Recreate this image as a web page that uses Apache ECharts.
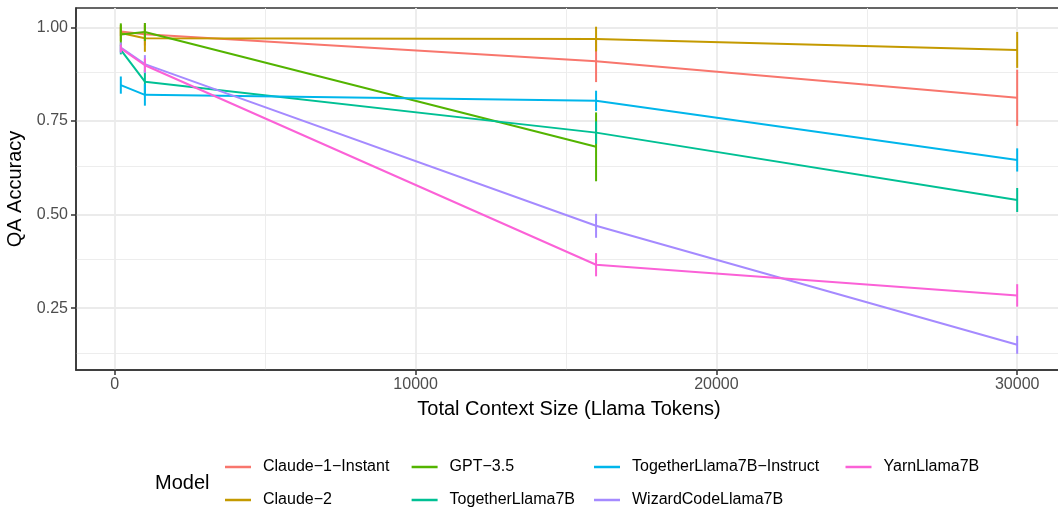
<!DOCTYPE html>
<html><head><meta charset="utf-8">
<script src="https://cdn.jsdelivr.net/npm/echarts@6/dist/echarts.min.js"></script>
<style>html,body{margin:0;padding:0;background:#fff}#c{width:1058px;height:508px}</style>
</head><body><div id="c"></div>
<script>
const xTokens = [200, 1000, 16000, 30000];
const modelNames = ['Claude−1−Instant','Claude−2','GPT−3.5','TogetherLlama7B','TogetherLlama7B−Instruct','WizardCodeLlama7B','YarnLlama7B'];
const claude1Acc = [0.989, 0.982, 0.910, 0.812];
const claude1Err = [0.012, 0.030, 0.056, 0.075];
const claude2Acc = [0.985, 0.971, 0.969, 0.940];
const claude2Err = [0.022, 0.036, 0.033, 0.048];
const gpt35Acc = [0.981, 0.988, 0.681];
const gpt35Err = [0.030, 0.024, 0.092];
const together7bAcc = [0.940, 0.855, 0.719, 0.539];
const together7bErr = [0.012, 0.032, 0.030, 0.032];
const togetherInstAcc = [0.846, 0.820, 0.804, 0.646];
const togetherInstErr = [0.023, 0.029, 0.027, 0.031];
const wizardAcc = [0.946, 0.902, 0.470, 0.152];
const wizardErr = [0.014, 0.024, 0.032, 0.024];
const yarnAcc = [0.944, 0.899, 0.366, 0.284];
const yarnErr = [0.010, 0.018, 0.031, 0.030];
const xTickValues = [0, 10000, 20000, 30000];
const xMinorValues = [5000, 15000, 25000];
const yTickValues = [0.25, 0.5, 0.75, 1.0];
const yMinorValues = [0.125, 0.375, 0.625, 0.875];
const colors = ['#F8766D','#C49A00','#53B400','#00C094','#00B6EB','#A58AFF','#FB61D7'];

const accs = [claude1Acc, claude2Acc, gpt35Acc, together7bAcc, togetherInstAcc, wizardAcc, yarnAcc];
const errs = [claude1Err, claude2Err, gpt35Err, together7bErr, togetherInstErr, wizardErr, yarnErr];
const FONT = 'Liberation Sans, Arial, sans-serif';

const series = [];
const gridMajor = {width: 1.8, color: '#EBEBEB', type: 'solid'};
const gridMinor = {width: 0.9, color: '#EBEBEB', type: 'solid'};
series.push({
  type: 'line', data: [], z: 0, silent: true,
  markLine: {
    z: 0, silent: true, symbol: ['none','none'], animation: false, label: {show: false},
    data: [].concat(
      yMinorValues.map(v => ({yAxis: v, lineStyle: gridMinor})),
      xMinorValues.map(v => ({xAxis: v, lineStyle: gridMinor})),
      yTickValues.map(v => ({yAxis: v, lineStyle: gridMajor})),
      xTickValues.map(v => ({xAxis: v, lineStyle: gridMajor}))
    )
  }
});
modelNames.forEach((name, i) => {
  series.push({
    name, type: 'line', z: 10, showSymbol: false, symbol: 'none',
    color: colors[i],
    lineStyle: {width: 2, color: colors[i]},
    data: accs[i].map((v, j) => [xTokens[j], v]),
    animation: false
  });
});
modelNames.forEach((name, i) => {
  series.push({
    name, type: 'custom', z: 11, color: colors[i],
    data: accs[i].map((v, j) => [xTokens[j], v - errs[i][j], v + errs[i][j]]),
    encode: {x: 0, y: [1, 2]},
    renderItem: (params, api) => {
      const p1 = api.coord([api.value(0), api.value(1)]);
      const p2 = api.coord([api.value(0), api.value(2)]);
      return {type: 'line', shape: {x1: p1[0], y1: p1[1], x2: p2[0], y2: p2[1]},
              style: {stroke: colors[i], lineWidth: 2}};
    },
    animation: false
  });
});

const legendLefts = [225, 411.6, 594, 845.5];
const legendCols = [[0,1],[2,3],[4,5],[6]];
const legends = legendCols.map((col, k) => ({
  orient: 'vertical', left: legendLefts[k], top: 459, padding: 0,
  itemWidth: 26, itemHeight: 2.5, itemGap: 17, icon: 'rect',
  data: col.map(i => modelNames[i]),
  textStyle: {fontSize: 16, color: '#000', fontFamily: FONT, lineHeight: 16, padding: [0,0,0,7]},
  selectedMode: false
}));

const chart = echarts.init(document.getElementById('c'), null, {renderer: 'canvas'});
chart.setOption({
  animation: false,
  backgroundColor: '#fff',
  title: {text: 'Model', left: 155, top: 473, padding: 0,
    textStyle: {fontSize: 20, fontWeight: 'normal', color: '#000', fontFamily: FONT}},
  legend: legends,
  grid: {left: 76, top: 8, width: 986, height: 362, show: true, borderColor: '#333333', borderWidth: 1.5,
         backgroundColor: 'transparent', containLabel: false, outerBoundsMode: 'none'},
  xAxis: {
    type: 'value', min: -1290, max: 31490,
    name: 'Total Context Size (Llama Tokens)', nameLocation: 'middle', nameGap: 29,
    nameTextStyle: {fontSize: 20, color: '#000', fontFamily: FONT},
    axisLine: {show: true, onZero: false, lineStyle: {color: '#333333', width: 1.5}},
    axisTick: {show: true, customValues: xTickValues, length: 5, lineStyle: {color: '#333333', width: 1.5}},
    axisLabel: {customValues: xTickValues, formatter: v => String(v), fontSize: 16, color: '#4D4D4D', fontFamily: FONT, margin: 7},
    splitLine: {show: false}
  },
  yAxis: {
    type: 'value', min: 0.0847, max: 1.052,
    name: 'QA Accuracy', nameLocation: 'middle', nameGap: 51,
    nameTextStyle: {fontSize: 20, color: '#000', fontFamily: FONT},
    axisLine: {show: true, onZero: false, lineStyle: {color: '#333333', width: 1.5}},
    axisTick: {show: true, customValues: yTickValues, length: 5, lineStyle: {color: '#333333', width: 1.5}},
    axisLabel: {customValues: yTickValues, formatter: v => v.toFixed(2), fontSize: 16, color: '#4D4D4D', fontFamily: FONT, margin: 8},
    splitLine: {show: false}
  },
  series
});
</script></body></html>
